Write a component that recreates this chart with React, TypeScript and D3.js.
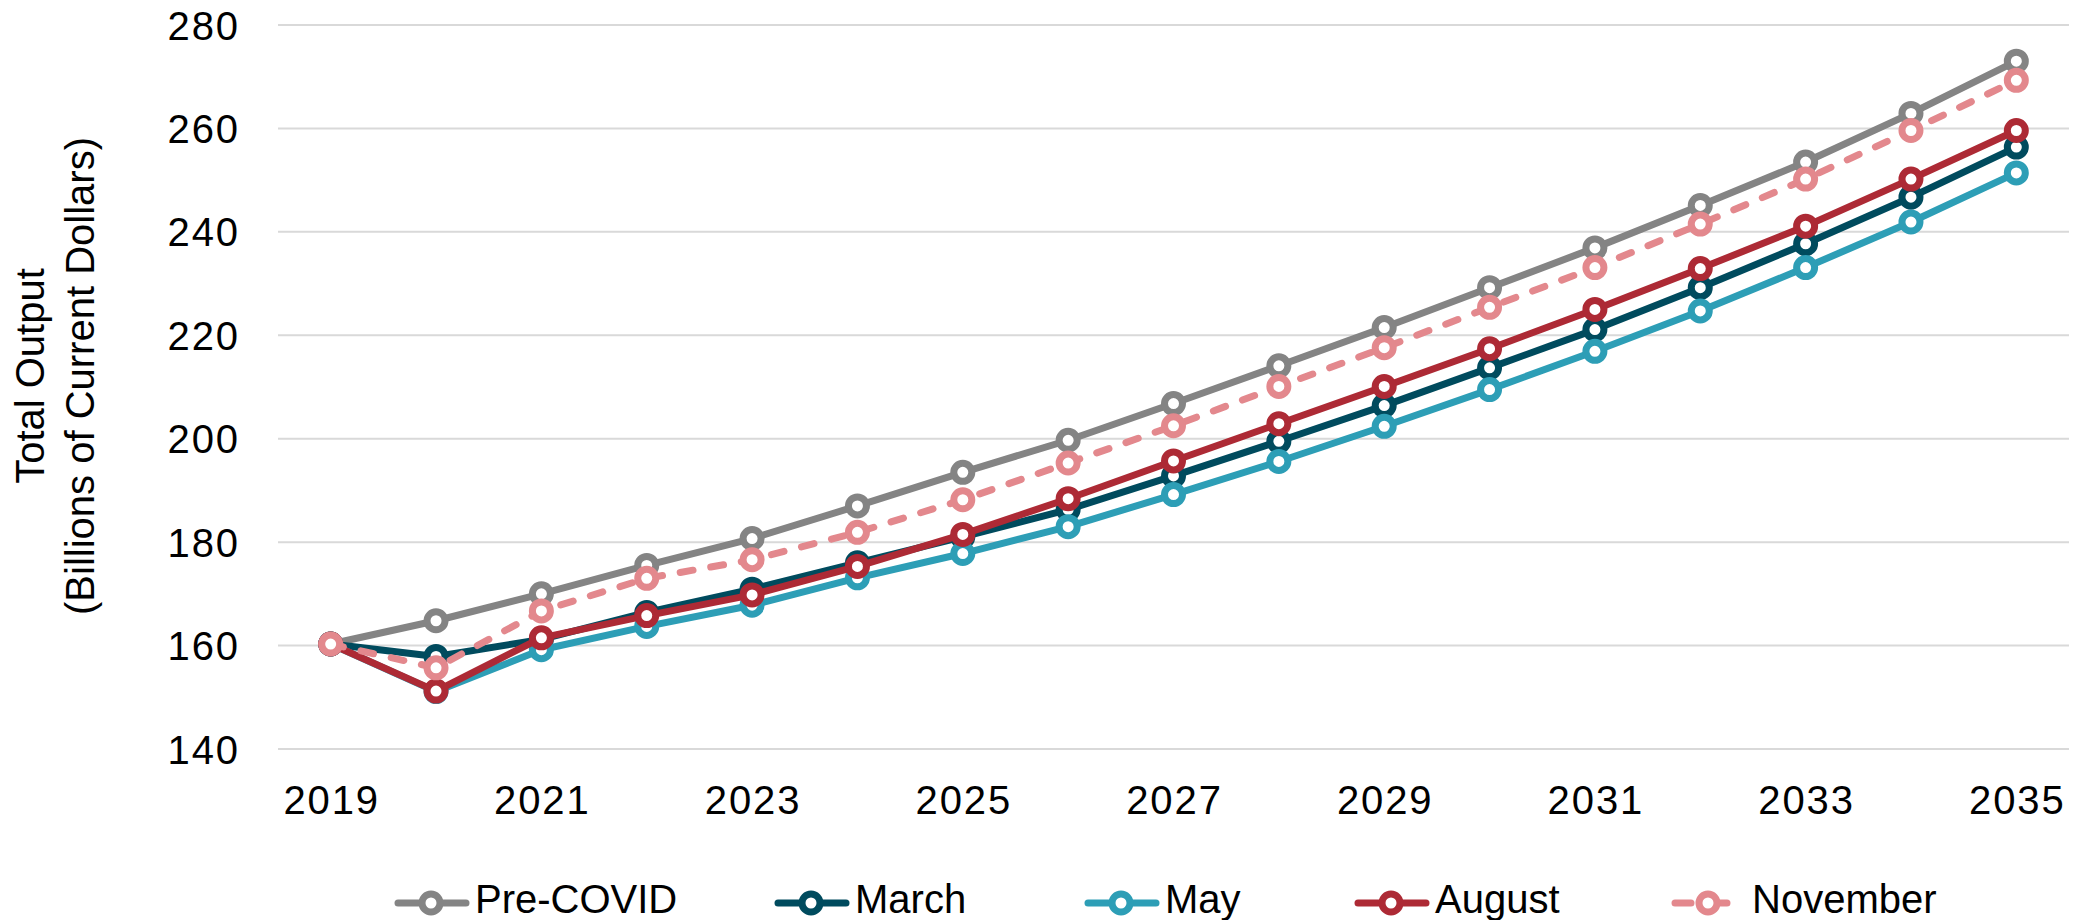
import React from "react";
import * as d3 from "d3";

const years = [2019, 2020, 2021, 2022, 2023, 2024, 2025, 2026, 2027, 2028, 2029, 2030, 2031, 2032, 2033, 2034, 2035];
const xTickYears = [2019, 2021, 2023, 2025, 2027, 2029, 2031, 2033, 2035];
const yTicks = [140, 160, 180, 200, 220, 240, 260, 280];

const preCovid = [160.3, 164.8, 170.0, 175.5, 180.7, 187.0, 193.5, 199.7, 206.8, 214.1, 221.5, 229.2, 236.9, 245.1, 253.5, 262.9, 273.0];
const march = [160.3, 157.9, 161.2, 166.4, 170.9, 176.0, 181.0, 186.3, 192.8, 199.5, 206.4, 213.7, 221.1, 229.2, 237.7, 246.7, 256.4];
const may = [160.3, 151.1, 159.2, 163.7, 167.8, 173.1, 177.8, 183.0, 189.2, 195.6, 202.4, 209.5, 216.9, 224.7, 233.1, 241.9, 251.4];
const august = [160.3, 151.2, 161.5, 165.8, 169.8, 175.3, 181.5, 188.4, 195.7, 202.9, 210.1, 217.4, 225.0, 232.9, 241.1, 250.2, 259.6];
const november = [160.3, 155.7, 166.7, 173.0, 176.6, 181.9, 188.2, 195.3, 202.5, 210.1, 217.6, 225.4, 233.1, 241.5, 250.2, 259.6, 269.3];

const seriesNames = ["Pre-COVID", "March", "May", "August", "November"];
const seriesValues = [preCovid, march, may, august, november];
const seriesColors = ["#848484", "#004B5E", "#2D9EB6", "#AD2A35", "#E3888D"];
const seriesDashed = [false, false, false, false, true];

const W = 2085;
const H = 920;
const plotLeft = 278;
const plotRight = 2069;
const plotTop = 25;
const plotBottom = 749;
const legendX = [395, 775, 1085, 1355, 1672];
const legendY = 903;
const FONT = "'Liberation Sans', Arial, sans-serif";

export default function App() {
  const x = d3.scalePoint<number>().domain(years).range([plotLeft, plotRight]).padding(0.5);
  const y = d3.scaleLinear().domain([140, 280]).range([plotBottom, plotTop]);
  const line = d3
    .line<number>()
    .x((_, i) => x(years[i]) as number)
    .y((d) => y(d));

  const dash = "13 18";

  return (
    <svg width={W} height={H} style={{ position: "absolute", left: 0, top: 0, background: "#fff" }} fontFamily={FONT}>
      {yTicks.map((t) => (
        <g key={t}>
          <line x1={plotLeft} x2={plotRight} y1={y(t)} y2={y(t)} stroke="#D9D9D9" strokeWidth={2} />
          <text x={240} y={y(t) + 14.5} textAnchor="end" fontSize={40} letterSpacing={1.9} fill="#000">
            {t}
          </text>
        </g>
      ))}
      {xTickYears.map((yr) => (
        <text key={yr} x={(x(yr) as number) + 1} y={814} textAnchor="middle" fontSize={40} letterSpacing={1.9} fill="#000">
          {yr}
        </text>
      ))}
      <text transform="translate(44,376) rotate(-90)" textAnchor="middle" fontSize={40} fill="#000">
        Total Output
      </text>
      <text transform="translate(94,376) rotate(-90)" textAnchor="middle" fontSize={40} fill="#000">
        (Billions of Current Dollars)
      </text>

      {seriesValues.map((vals, si) => (
        <g key={seriesNames[si]}>
          <path
            d={line(vals) || ""}
            fill="none"
            stroke={seriesColors[si]}
            strokeWidth={7}
            strokeLinejoin="round"
            strokeLinecap="round"
            strokeDasharray={seriesDashed[si] ? dash : undefined}
          />
          {vals.map((v, i) => (
            <circle key={i} cx={x(years[i]) as number} cy={y(v)} r={9} fill="#fff" stroke={seriesColors[si]} strokeWidth={7} />
          ))}
        </g>
      ))}

      {seriesNames.map((name, si) => {
        const x0 = legendX[si];
        return (
          <g key={name}>
            <line
              x1={x0 + 3}
              x2={x0 + 71}
              y1={legendY}
              y2={legendY}
              stroke={seriesColors[si]}
              strokeWidth={7}
              strokeLinecap="round"
              strokeDasharray={seriesDashed[si] ? "16 20" : undefined}
            />
            <circle cx={x0 + 36} cy={legendY} r={9} fill="#fff" stroke={seriesColors[si]} strokeWidth={7} />
            <text x={x0 + 80} y={913} fontSize={40} fill="#000">
              {name}
            </text>
          </g>
        );
      })}
    </svg>
  );
}
